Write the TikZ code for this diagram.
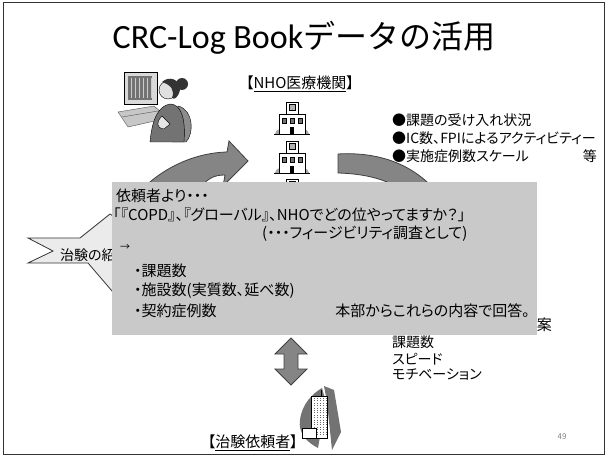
\documentclass[tikz,border=0pt]{standalone}
\usepackage{fontspec}
\newfontfamily\jp[RawFeature=+palt]{Noto Sans CJK JP}
\newfontfamily\jpt{Noto Sans CJK JP}
\newfontfamily\lat{Carlito}
\usetikzlibrary{positioning}

% small hospital icon
\tikzset{hospital/.pic={
    \fill[black!35] (-17,15) .. controls (-15,9) and (-12,9) .. (-10,15) -- cycle;
    \fill[black!35] (10,15) .. controls (12,9) and (15,9) .. (17,15) -- cycle;
    \draw[fill=white] (-13,-5) rectangle (13,15);
    \draw[fill=white] (-6,-17) rectangle (6,-5);
    \draw[fill=black!30] (-3,-15) rectangle (3,-9);
    \foreach \wx in {-10,-2,6}
      \draw[fill=black!55] (\wx,-1) rectangle ++(4,5);
    \fill (-2,8) rectangle (2,15);
    \draw (-18,15) -- (18,15);
}}

\begin{document}
\begin{tikzpicture}[x=1pt,y=-1pt,
  txt/.style={font=\jp\fontsize{15}{18}\selectfont, inner sep=0pt, anchor=west},
  small/.style={txt, font=\jp\fontsize{14}{16}\selectfont},
  band/.style={fill=black!48, draw=black!75, line width=.8pt},
  panel/.style={fill=black!21, draw=none}]
  \useasboundingbox (0,0) rectangle (607,457);
  \draw[black!80, line width=1pt] (3,3) rectangle (604,454);

  \node[inner sep=0pt] (title) at (304,38)
    {\lat\fontsize{34}{40}\selectfont CRC-Log Book\jpt\fontsize{32}{40}\selectfont データの活用};

  % operator at the terminal
  \fill[black!22, draw=black!70] (118,112) -- (154,106) -- (168,118) -- (128,127) -- cycle;
  \draw[black!70] (122,117) -- (158,111);
  \draw[fill=black!15] (124,72) rectangle (157,104);
  \fill[black!55] (128,76) rectangle (152,100);
  \foreach \lx in {131,135,...,151}
    \draw[black!20, line width=.5pt] (\lx,78) -- (\lx,98);
  \draw[fill=black!45] (178,106) .. controls (194,110) and (194,134) .. (186,142) -- (172,142) -- cycle;
  \draw[fill=black!55] (150,142) .. controls (152,120) and (158,106) .. (170,104)
    .. controls (180,104) and (186,116) .. (184,142) -- cycle;
  \draw[fill=black!10] (162,116) .. controls (156,122) and (156,128) .. (164,129) -- (170,124) -- cycle;
  \draw[fill=black!12] (168,90) circle (9);
  \fill[black!80] (162,82) .. controls (168,76) and (180,78) .. (180,90) .. controls (178,98) and (174,100) .. (172,98)
    .. controls (175,90) and (171,85) .. cycle;
  \fill[black!80] (182,84) circle (6);

  \node[txt, anchor=center] (nho) at (300,84) {【\underline{NHO医療機関}】};
  \pic[line width=.6pt] at (292,119) {hospital};
  \pic[line width=.6pt] at (292,158) {hospital};
  \pic[line width=.6pt] at (292,196) {hospital};

  \node[small] (b1) at (392,120) {●課題の受け入れ状況};
  \node[small] (b2) at (392,138) {●IC数、FPIによるアクティビティー};
  \node[small] (b3) at (392,156) {●実施症例数スケール};
  \node[small, anchor=east] (etc) at (597,156) {等};

  % arrows round the hospital column
  \draw[band] (136,196) .. controls (156,172) and (190,153) .. (227,152)
    -- (229,141) -- (248,161) -- (223,186) -- (225,175)
    .. controls (214,175) and (206,178) .. (196,194) -- cycle;
  \draw[band] (338,154) .. controls (372,152) and (412,160) .. (440,196)
    -- (414,200) .. controls (396,182) and (372,174) .. (338,173) -- cycle;

  % sponsor request tag
  \draw[fill=black!8, draw=black!80, line width=.8pt] (28,238) -- (80,238) -- (110,214) -- (165,251)
    -- (112,291) -- (88,263) -- (28,263) -- (53,251) -- cycle;
  \node[small] (tag) at (60,255) {治験の紹介};

  \node[txt, anchor=east] (prop) at (552,325) {提案};

  \fill[panel] (112,182) rectangle (537,335);
  \node[txt] (q0) at (116,196) {依頼者より・・・};
  \node[txt] (q1) at (113,215) {「『COPD』、『グローバル』、NHOでどの位やってますか？」};
  \node[txt] (q2) at (262,234) {(・・・フィージビリティ調査として)};
  \node[txt, font=\jp\fontsize{10}{12}\selectfont] (arr) at (120,247) {→};
  \node[txt] (a1) at (134,271) {・課題数};
  \node[txt, below=5pt of a1.south west, anchor=north west] (a2) {・施設数(実質数、延べ数)};
  \node[txt, below=5pt of a2.south west, anchor=north west] (a3) {・契約症例数};
  \node[txt, anchor=east] (ans) at (530,311) {本部からこれらの内容で回答。};

  \node[small] (k1) at (392,342) {課題数};
  \node[small, below=4pt of k1.south west, anchor=north west] (k2) {スピード};
  \node[small, below=4pt of k2.south west, anchor=north west] (k3) {モチベーション};

  % two-way arrow to the sponsor
  \draw[band] (291,338) -- (307,354) -- (298,354) -- (298,369) -- (307,369) -- (291,385)
    -- (275,369) -- (284,369) -- (284,354) -- (275,354) -- cycle;

  % sponsor office
  \fill[black!55] (300,420) .. controls (302,404) and (312,394) .. (322,388) -- (326,402)
    -- (318,448) .. controls (306,442) and (298,432) .. cycle;
  \fill[black!55] (324,386) -- (334,390) -- (341,432) -- (332,450) -- (327,402) -- cycle;
  \draw[fill=white, line width=.5pt] (311,396) rectangle (327,438);
  \foreach \sx in {314,317,...,326}
    \draw[black!60, line width=.4pt, dotted] (\sx,398) -- (\sx,436);
  \draw[fill=white, line width=.5pt] (302,428) rectangle (316,438);
  \draw[line width=.6pt] (321,390) -- (321,396);

  \node[txt, anchor=east] (sponsor) at (298,443) {【\underline{治験依頼者}】};
  \node[txt, anchor=center, font=\jp\fontsize{8}{10}\selectfont, text=black!50] (page) at (562,437) {49};
\end{tikzpicture}
\end{document}
